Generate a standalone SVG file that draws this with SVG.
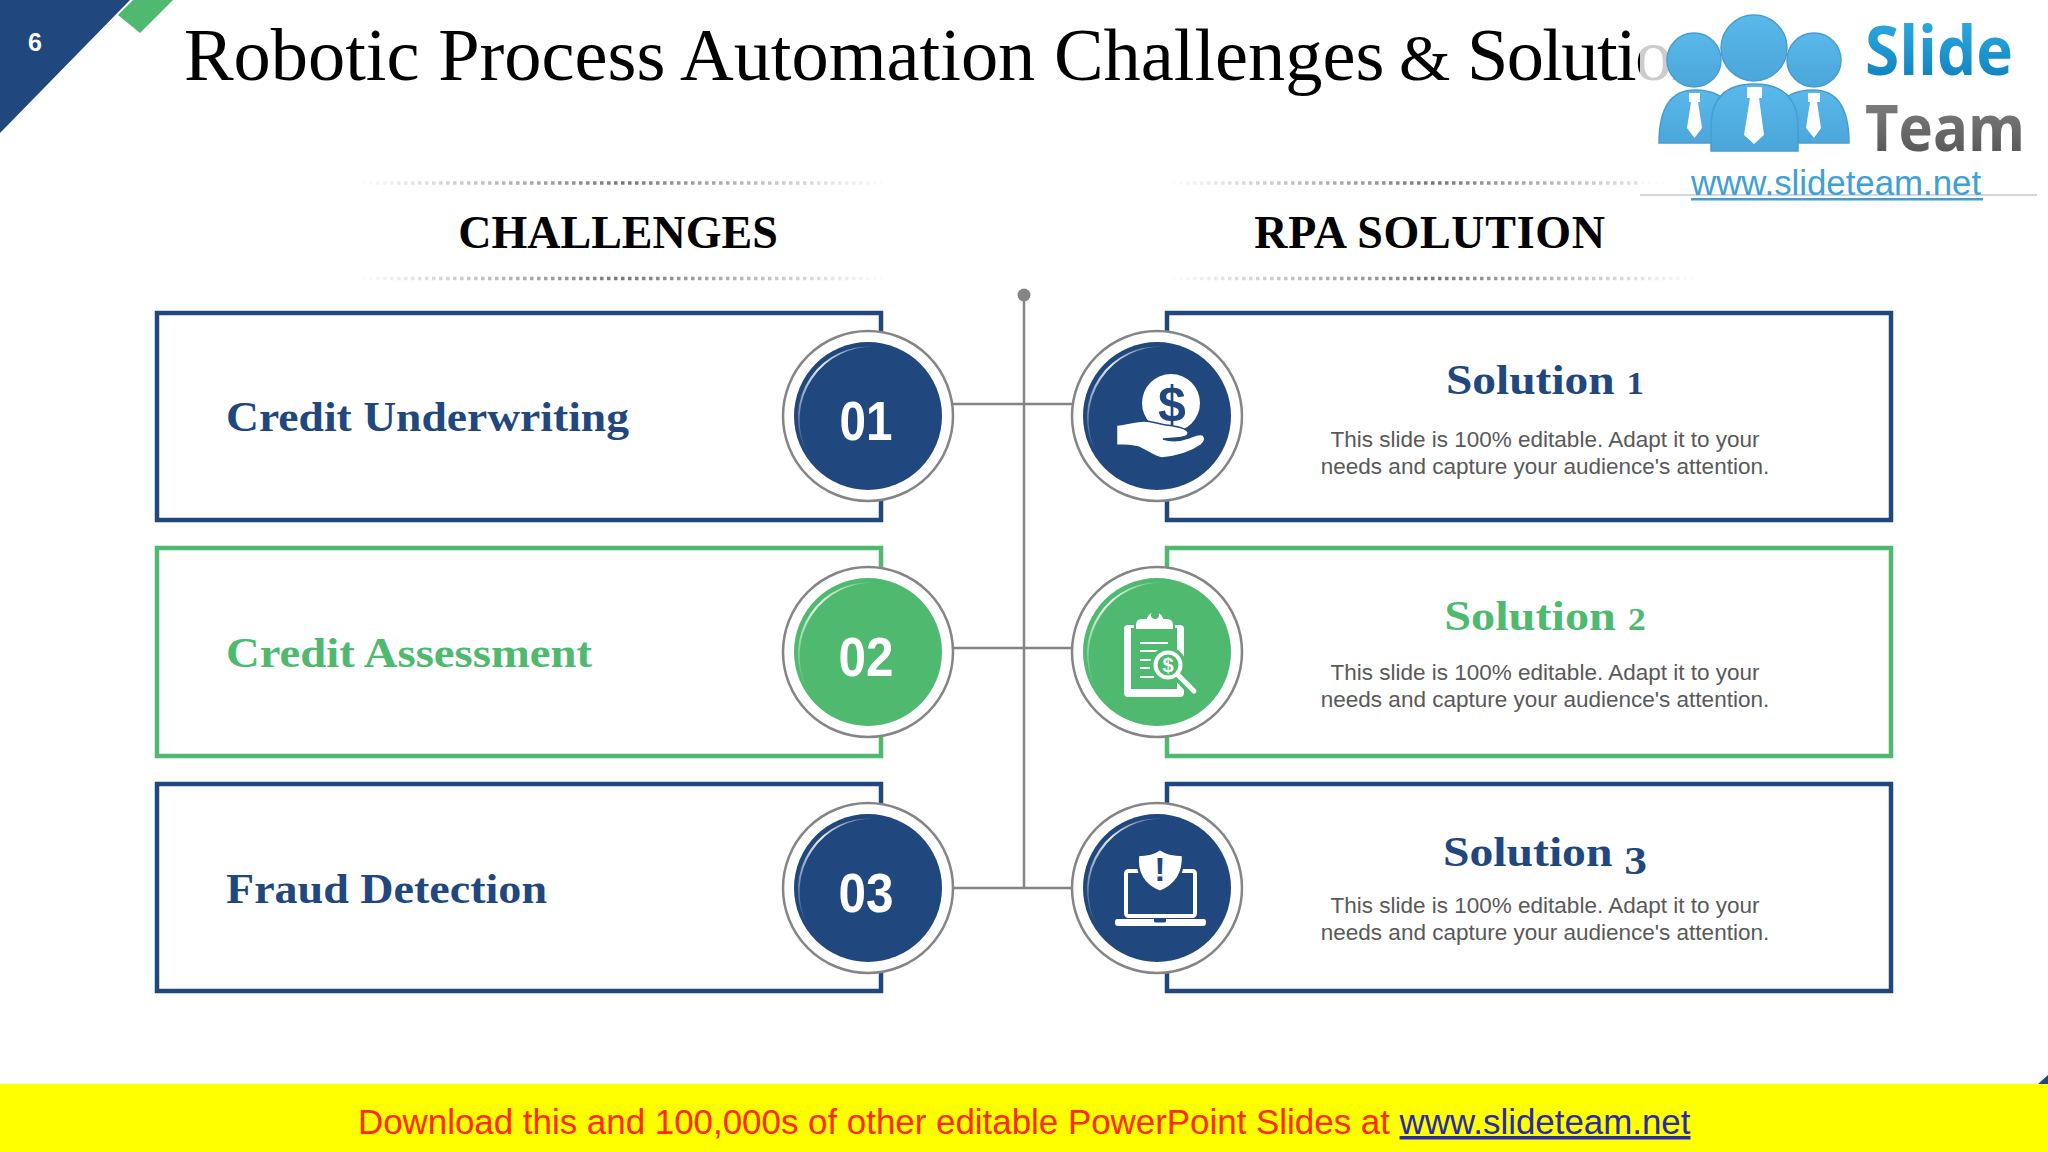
<svg xmlns="http://www.w3.org/2000/svg" width="2048" height="1152" viewBox="0 0 2048 1152">
<style>
text{font-family:"Liberation Sans",Arial,sans-serif}
.serif{font-family:"Liberation Serif","Times New Roman",serif}
.box{fill:#fff;stroke-width:4.5}
.navy{stroke:#21477f}.green{stroke:#4fb970}
.tn{fill:#21477f}.tg{fill:#4fb970}
.ring{fill:#fff;stroke:#858585;stroke-width:2.5}
.num{fill:#fff;font-size:55px;font-weight:700;text-anchor:middle}
.lab{font-family:"Liberation Serif",serif;font-weight:700;font-size:42px}
.sol{font-family:"Liberation Serif",serif;font-weight:700;font-size:42px;text-anchor:middle}
.body{fill:#595959;font-size:22.5px;text-anchor:middle}
.hd{font-family:"Liberation Serif",serif;font-weight:700;font-size:46px;fill:#000;text-anchor:middle}
.conn{stroke:#858585;stroke-width:2.5;fill:none}
.dot{stroke-width:3.5;stroke-dasharray:3.5 3.5;fill:none}
.w{fill:#fff}
.wl{stroke:#fff;fill:none}
</style>
<defs>
<clipPath id="titleClip"><rect x="0" y="0" width="1712" height="120"/></clipPath>
<linearGradient id="shineG" x1="0" y1="1" x2="1" y2="0"><stop offset="0" stop-color="#fff" stop-opacity=".1"/><stop offset=".55" stop-color="#fff" stop-opacity=".9"/><stop offset="1" stop-color="#fff" stop-opacity=".1"/></linearGradient>
<path id="shine" d="M-61 36A71 71 0 0 1 10 -69A73 73 0 0 0 -61 36Z" fill="url(#shineG)"/>
<linearGradient id="dl" gradientUnits="userSpaceOnUse" x1="355" y1="0" x2="890" y2="0"><stop offset="0" stop-color="#888" stop-opacity="0"/><stop offset=".5" stop-color="#777"/><stop offset="1" stop-color="#888" stop-opacity="0"/></linearGradient>
<linearGradient id="dr" gradientUnits="userSpaceOnUse" x1="1165" y1="0" x2="1700" y2="0"><stop offset="0" stop-color="#888" stop-opacity="0"/><stop offset=".5" stop-color="#777"/><stop offset="1" stop-color="#888" stop-opacity="0"/></linearGradient>
<linearGradient id="pb" x1="0" y1="0" x2="0" y2="1"><stop offset="0" stop-color="#5ab8ea"/><stop offset="1" stop-color="#4ba6da"/></linearGradient>
<linearGradient id="sl" x1="0" y1="0" x2="0" y2="1"><stop offset="0" stop-color="#35b6ea"/><stop offset="1" stop-color="#0a78b6"/></linearGradient>
<linearGradient id="tm" x1="0" y1="0" x2="0" y2="1"><stop offset="0" stop-color="#8c8c8c"/><stop offset="1" stop-color="#4c4c4c"/></linearGradient>
</defs>
<rect width="2048" height="1152" fill="#fff"/>
<g id="corner">
<polygon points="0,0 130,0 0,133" fill="#21477f"/>
<polygon points="133,0 173,0 140,33 118,15" fill="#4fb970"/>
<text x="35" y="51" font-size="25" font-weight="700" fill="#fff" text-anchor="middle">6</text>
</g>
<text id="title" class="serif" x="184" y="80" font-size="74.4" fill="#000" clip-path="url(#titleClip)">Robotic Process Automation Challenges <tspan dx="-4" font-size="66">&amp; </tspan><tspan letter-spacing="-1.6">Solutions</tspan></text>
<g id="headers">
<line class="dot" x1="355" y1="183" x2="890" y2="183" stroke="url(#dl)"/>
<line class="dot" x1="355" y1="278.5" x2="890" y2="278.5" stroke="url(#dl)"/>
<line class="dot" x1="1165" y1="183" x2="1700" y2="183" stroke="url(#dr)"/>
<line class="dot" x1="1165" y1="278.5" x2="1700" y2="278.5" stroke="url(#dr)"/>
<text class="hd" x="618" y="248">CHALLENGES</text>
<text class="hd" x="1430" y="248" letter-spacing=".7">RPA SOLUTION</text>
</g>
<g id="box-challenge-1"><rect class="box navy" x="157" y="313" width="724" height="207"/><text class="lab tn" x="226" y="431" textLength="403" lengthAdjust="spacingAndGlyphs">Credit Underwriting</text></g>
<g id="box-challenge-2"><rect class="box green" x="157" y="548" width="724" height="208"/><text class="lab tg" x="226" y="667" textLength="366" lengthAdjust="spacingAndGlyphs">Credit Assessment</text></g>
<g id="box-challenge-3"><rect class="box navy" x="157" y="784" width="724" height="207"/><text class="lab tn" x="226" y="903" textLength="321" lengthAdjust="spacingAndGlyphs">Fraud Detection</text></g>
<g id="box-solution-1"><rect class="box navy" x="1167" y="313" width="724" height="207"/><text class="sol tn" transform="translate(1545 394) scale(1.13 1)">Solution <tspan font-size="31">1</tspan></text><text class="body" x="1545" y="447">This slide is 100% editable. Adapt it to your</text><text class="body" x="1545" y="474">needs and capture your audience's attention.</text></g>
<g id="box-solution-2"><rect class="box green" x="1167" y="548" width="724" height="208"/><text class="sol tg" transform="translate(1545 630) scale(1.15 1)">Solution <tspan font-size="31">2</tspan></text><text class="body" x="1545" y="680">This slide is 100% editable. Adapt it to your</text><text class="body" x="1545" y="707">needs and capture your audience's attention.</text></g>
<g id="box-solution-3"><rect class="box navy" x="1167" y="784" width="724" height="207"/><text class="sol tn" transform="translate(1545 866) scale(1.135 1)">Solution <tspan font-size="40" dy="8">3</tspan></text><text class="body" x="1545" y="913">This slide is 100% editable. Adapt it to your</text><text class="body" x="1545" y="940">needs and capture your audience's attention.</text></g>
<g id="connectors">
<circle cx="1024" cy="295" r="6.5" fill="#858585"/>
<line class="conn" x1="1024" y1="295" x2="1024" y2="888"/>
<line class="conn" x1="953" y1="404" x2="1072" y2="404"/>
<line class="conn" x1="953" y1="648" x2="1072" y2="648"/>
<line class="conn" x1="953" y1="888" x2="1072" y2="888"/>
</g>
<g id="num-1"><circle class="ring" cx="868" cy="416" r="85"/><circle cx="868" cy="416" r="74" fill="#21477f"/><use href="#shine" x="868" y="416"/><text class="num" x="866" y="440" textLength="53" lengthAdjust="spacingAndGlyphs">01</text></g>
<g id="num-2"><circle class="ring" cx="868" cy="652" r="85"/><circle cx="868" cy="652" r="74" fill="#4fb970"/><use href="#shine" x="868" y="652"/><text class="num" x="866" y="676" textLength="55" lengthAdjust="spacingAndGlyphs">02</text></g>
<g id="num-3"><circle class="ring" cx="868" cy="888" r="85"/><circle cx="868" cy="888" r="74" fill="#21477f"/><use href="#shine" x="868" y="888"/><text class="num" x="866" y="912" textLength="55" lengthAdjust="spacingAndGlyphs">03</text></g>
<g id="icon-1"><circle class="ring" cx="1157" cy="416" r="85"/><circle cx="1157" cy="416" r="74" fill="#21477f"/><use href="#shine" x="1157" y="416"/>
<circle class="w" cx="1171" cy="403" r="29"/><text x="1172" y="421" font-size="50" font-weight="700" fill="#21477f" text-anchor="middle">$</text>
<path class="w" stroke="#21477f" stroke-width="1.5" d="M1116.5 425C1128 424 1136 421 1144 421C1152 421 1158 424 1166 425C1175 426 1186 428 1188 432C1189 436 1183 438 1176 438L1163 439C1172 442 1180 441 1188 438C1194 436 1199 433 1203 435C1206 438 1205 442 1201 445C1194 450 1180 456 1162 458C1156 458 1146 450 1138 447C1130 445 1124 445 1116.5 445Z"/></g>
<g id="icon-2"><circle class="ring" cx="1157" cy="652" r="85"/><circle cx="1157" cy="652" r="74" fill="#4fb970"/><use href="#shine" x="1157" y="652"/>
<path class="w" fill-rule="evenodd" d="M1128 625H1180Q1184 625 1184 629V693Q1184 697 1180 697H1128Q1124 697 1124 693V629Q1124 625 1128 625ZM1131 628V689H1177V628Z"/>
<path class="w" stroke="#4fb970" stroke-width="2" d="M1135 630V625Q1135 618 1142 618H1146A9.5 9.5 0 0 1 1164 618H1167Q1174 618 1174 625V630Z"/>
<circle cx="1155" cy="615" r="4" fill="#4fb970"/>
<path class="wl" stroke-width="2" d="M1140 643H1168M1140 651H1158M1140 660H1152M1140 668H1150M1140 677H1154"/>
<path d="M1178 675L1196 695" stroke="#4fb970" stroke-width="11" fill="none"/><circle cx="1168" cy="665" r="18" fill="#4fb970"/>
<circle class="wl" cx="1168" cy="665" r="12.5" stroke-width="4"/><path class="wl" stroke-width="5" stroke-linecap="round" d="M1178 675L1194 691"/>
<text x="1168" y="672" font-size="20" font-weight="700" fill="#fff" text-anchor="middle">$</text></g>
<g id="icon-3"><circle class="ring" cx="1157" cy="888" r="85"/><circle cx="1157" cy="888" r="74" fill="#21477f"/><use href="#shine" x="1157" y="888"/>
<rect class="wl" x="1126" y="871" width="69" height="45" rx="2.5" stroke-width="4"/>
<path class="w" d="M1117 919H1204Q1206 919 1206 922.5Q1206 926 1203 926H1118Q1115 926 1115 922.5Q1115 919 1117 919Z"/>
<path fill="#21477f" d="M1154 919H1166V921Q1166 922.5 1164 922.5H1156Q1154 922.5 1154 921Z"/>
<path class="w" stroke="#21477f" stroke-width="2.5" d="M1160 849C1167 854 1175 855 1183 855C1184 872 1177 885 1160 892C1143 885 1136 872 1138 855C1146 855 1153 854 1160 849Z"/>
<text x="1160" y="881" font-size="34" font-weight="700" fill="#21477f" text-anchor="middle">!</text></g>
<g id="logo">
<rect x="1640" y="0" width="408" height="195" fill="#fff" fill-opacity=".8"/>
<line x1="1640" y1="195" x2="2037" y2="195" stroke="#c8c8c8" stroke-width="1.5"/>
<g fill="url(#pb)" stroke="#479dd0" stroke-width="1.5">
<circle cx="1694" cy="60" r="27"/><circle cx="1814" cy="60" r="27"/>
<path d="M1659 143Q1659 90 1695 90Q1718 90 1728 104L1716 143Z"/>
<path d="M1849 143Q1849 90 1813 90Q1790 90 1780 104L1792 143Z"/>
<path d="M1711 151V127Q1711 84 1754 84Q1798 84 1798 127V151Z"/>
<circle cx="1754" cy="48" r="33"/></g>
<path class="w" d="M1747 87H1762V98H1759L1764 135L1754 144L1744 135L1750 98H1747Z"/>
<path class="w" d="M1689 93H1700V102H1698L1702 128L1694.5 138L1687 128L1691 102H1689Z"/>
<path class="w" d="M1808 93H1820V102H1817L1821 128L1814 138L1806 128L1810 102H1808Z"/>
<text x="1865" y="75" style="font-family:'Open Sans',sans-serif" font-size="68" font-weight="700" fill="url(#sl)" textLength="148" lengthAdjust="spacingAndGlyphs">Slide</text>
<text x="1865" y="151" style="font-family:'Open Sans',sans-serif" font-size="64" font-weight="700" fill="url(#tm)" textLength="160" lengthAdjust="spacingAndGlyphs">Team</text>
<text x="1691" y="195" font-size="34.8" fill="#3fa0d4">www.slideteam.net</text>
<rect x="1691" y="198" width="292" height="2.5" fill="#3fa0d4"/>
</g>
<g id="footer">
<rect x="0" y="1084" width="2048" height="68" fill="#ff0"/>
<polygon points="2038,1084 2048,1075 2048,1084" fill="#21477f"/>
<text x="358" y="1134" font-size="34.9" fill="#ff2a00">Download this and 100,000s of other editable PowerPoint Slides at <tspan fill="#2a2aa8" text-decoration="underline">www.slideteam.net</tspan></text>
</g>
</svg>
